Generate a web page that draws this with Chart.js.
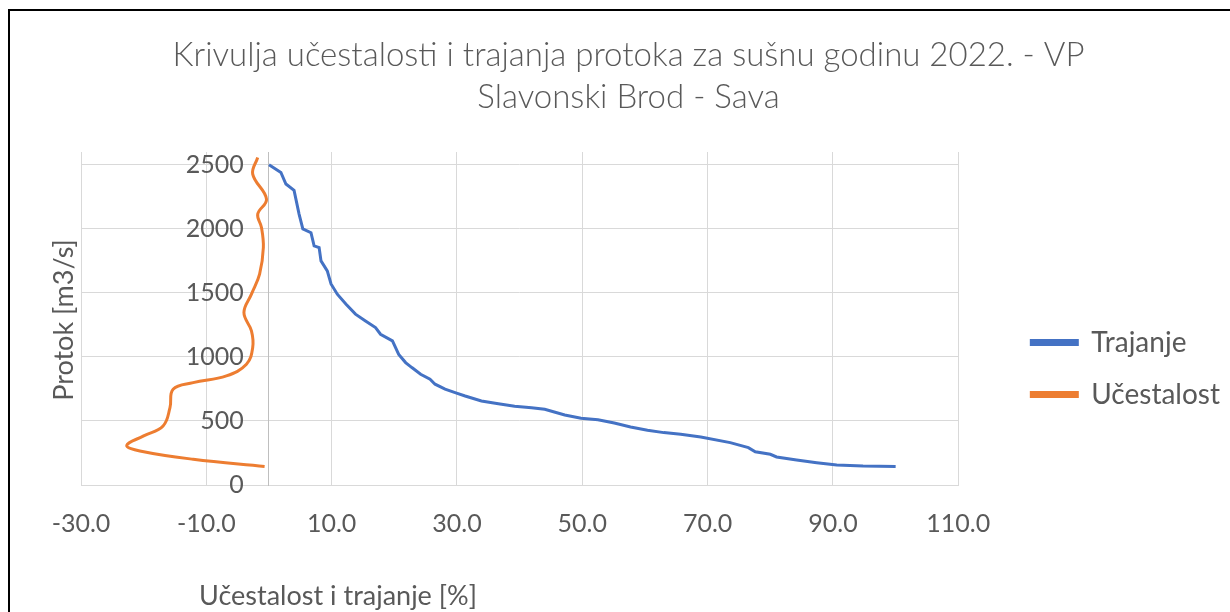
<!DOCTYPE html>
<html>
<head>
<meta charset="utf-8">
<script src="https://cdn.jsdelivr.net/npm/chart.js@4.4.1/dist/chart.umd.min.js"></script>
<style>
    html, body { margin: 0; padding: 0; background: #fff; }
    #wrap { width: 1230px; height: 612px; position: relative; }
</style>
</head>
<body>
<div id="wrap"><canvas id="myChart"></canvas></div>
<script>
const titleLines = ['Krivulja učestalosti i trajanja protoka za sušnu godinu 2022. - VP', 'Slavonski Brod - Sava'];
const xTitle = 'Učestalost i trajanje [%]';
const yTitle = 'Protok [m3/s]';
const seriesNames = ['Trajanje', 'Učestalost'];

// duration curve (x = % of time, y = discharge)
const trajanjeX = [0, 1.9, 2.7, 4.0, 4.8, 5.4, 6.7, 7.2, 8.0, 8.3, 9.3, 9.9, 10.9, 12.3, 13.8, 15.4, 17.0, 17.8, 19.7,
    20.7, 21.8, 22.8, 24.2, 25.7, 26.5, 28.1, 29.7, 31.3, 33.9, 36.6, 39.2, 41.9, 44.0, 47.2, 49.8, 52.5, 55.1,
    57.7, 60.4, 63.0, 65.7, 68.9, 73.6, 76.5, 77.6, 80.0, 81.0, 84.2, 87.4, 90.6, 94.8, 100];
const trajanjeY = [2500, 2440, 2350, 2300, 2115, 2000, 1970, 1867, 1854, 1750, 1672, 1570, 1490, 1412, 1334, 1281, 1229, 1177, 1125,
    1020, 956, 917, 865, 826, 787, 748, 721, 695, 656, 635, 615, 604, 591, 547, 521, 510, 484,
    453, 427, 409, 396, 375, 331, 292, 260, 240, 219, 195, 174, 156, 148, 145];

// frequency curve, drawn on the negative side
const ucestalostX = [-0.7, -12.1, -20.6, -22.7, -20.0, -16.9, -15.8, -15.3, -12.1, -6.8, -3.6, -2.6, -2.8, -4.0, -2.8,
    -1.5, -0.9, -1.2, -1.8, -0.4, -2.6, -1.8];
const ucestalostY = [145, 201, 266, 310, 383, 461, 604, 748, 799, 852, 943, 1073, 1203, 1346, 1490,
    1646, 1854, 2010, 2115, 2232, 2427, 2557];

const xTicks = [-30, -10, 10, 30, 50, 70, 90, 110];
const yTicks = [0, 500, 1000, 1500, 2000, 2500];

const textColor = '#595959';
const gridColor = '#D9D9D9';
const fontFamily = 'Lato, "Open Sans", sans-serif';

const toPoints = (xs, ys) => xs.map((x, i) => ({ x: x, y: ys[i] }));

// empty scale used only to reserve room (like Excel's plot-area offsets)
const spacer = w => ({
    type: 'linear',
    display: true,
    ticks: { display: false },
    grid: { display: false, drawTicks: false },
    border: { display: false },
    afterFit: s => { s.width = w; }
});

const frameAndTitles = {
    id: 'frameAndTitles',
    beforeDraw(chart) {
        const c = chart.ctx;
        c.save();
        c.fillStyle = '#fff';
        c.fillRect(0, 0, chart.width, chart.height);
        c.strokeStyle = '#000';
        c.lineWidth = 2;
        c.strokeRect(9, 10, chart.width + 20, chart.height + 20);
        c.restore();
    },
    afterDraw(chart) {
        const c = chart.ctx;
        c.save();
        c.fillStyle = textColor;
        c.font = '27px ' + fontFamily;
        c.textAlign = 'center';
        c.textBaseline = 'middle';
        c.fillText(xTitle, 338, 596);
        c.translate(64, 320);
        c.rotate(-Math.PI / 2);
        c.fillText(yTitle, 0, 0);
        c.restore();
    }
};

const ctx = document.getElementById('myChart').getContext('2d');

const myChart = new Chart(ctx, {
    type: 'line',
    data: {
        datasets: [{
            label: seriesNames[0],
            data: toPoints(trajanjeX, trajanjeY),
            borderColor: '#4472C4',
            backgroundColor: '#4472C4',
            borderWidth: 3,
            pointRadius: 0,
            tension: 0,
            xAxisID: 'x',
            yAxisID: 'y'
        }, {
            label: seriesNames[1],
            data: toPoints(ucestalostX, ucestalostY),
            borderColor: '#ED7D31',
            backgroundColor: '#ED7D31',
            borderWidth: 3,
            pointRadius: 0,
            tension: 0.4,
            xAxisID: 'x',
            yAxisID: 'y'
        }]
    },
    options: {
        responsive: true,
        maintainAspectRatio: false,
        animation: false,
        layout: { padding: { left: 27, right: 0, top: 0, bottom: 49 } },
        scales: {
            x: {
                type: 'linear',
                position: 'bottom',
                min: -30,
                max: 110,
                afterBuildTicks: s => { s.ticks = xTicks.map(v => ({ value: v })); },
                ticks: {
                    color: textColor,
                    font: { family: fontFamily, size: 25 },
                    padding: 24,
                    maxRotation: 0,
                    callback: v => v.toFixed(1)
                },
                grid: { color: gridColor, lineWidth: 1, drawTicks: false },
                border: { color: gridColor, width: 1 }
            },
            y: {
                type: 'linear',
                position: { x: 0 },
                min: 0,
                max: 2600,
                afterBuildTicks: s => { s.ticks = yTicks.map(v => ({ value: v })); },
                ticks: {
                    color: textColor,
                    font: { family: fontFamily, size: 25 },
                    // labels sit a little left of the x=0 axis line, as in Excel
                    callback: v => String(v) + '\u2003 '
                },
                grid: { color: gridColor, lineWidth: 1, drawTicks: false },
                border: { color: '#BFBFBF', width: 1 }
            },
            padLeft: Object.assign(spacer(54), { position: 'left' }),
            padRight: Object.assign(spacer(49), { position: 'right' })
        },
        plugins: {
            title: {
                display: true,
                text: titleLines,
                color: textColor,
                font: { family: fontFamily, size: 33, weight: '300', lineHeight: 1.3 },
                padding: { top: 33.5, bottom: 32.7 }
            },
            legend: {
                position: 'right',
                align: 'center',
                fullSize: false,
                maxWidth: 260,
                title: { display: true, text: ' ', font: { size: 10, lineHeight: 1 }, padding: { top: 90, bottom: 0 } },
                labels: {
                    color: textColor,
                    font: { family: fontFamily, size: 28 },
                    boxWidth: 46,
                    boxHeight: 4,
                    padding: 24
                }
            },
            tooltip: { enabled: false }
        }
    },
    plugins: [frameAndTitles]
});
</script>
</body>
</html>
